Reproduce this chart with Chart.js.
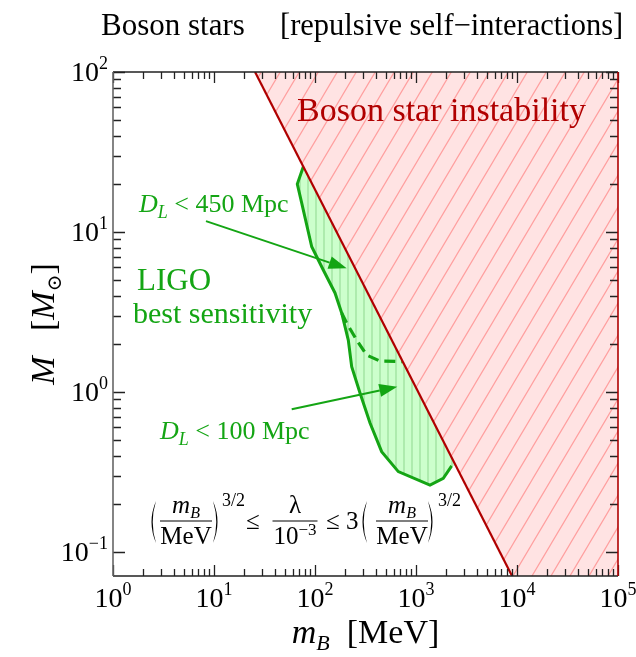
<!DOCTYPE html>
<html lang="en">
<head>
  <meta charset="UTF-8">
  <title>Boson stars</title>
  <script src="https://cdn.jsdelivr.net/npm/chart.js@4"></script>
  <style>
    body { margin: 0; background: #fff; }
    #wrap { width: 636px; height: 657px; }
  </style>
</head>
<body>
  <div id="wrap"><canvas id="chart" width="636" height="657"></canvas></div>

  <script>
    // axis ranges (log-log)
    const massRange = [1, 1e5];        // m_B [MeV]
    const starRange = [0.0708, 100];   // M [M_sun]
    const xTickPowers = [0, 1, 2, 3, 4, 5];
    const yTickPowers = [-1, 0, 1, 2];

    // maximum stable boson star mass, M ~ m_B^(-5/4)
    const boundaryMass = [25.5, 1e5];
    const boundaryM = [100, 0.00356];

    // LIGO best-sensitivity contour (solid part)
    const ligoMass = [76.6, 66.8, 73.8, 92.8, 120.8, 157.8, 183.7, 213.6, 230.8, 279, 350.6, 457, 668, 1376, 1862, 2255];
    const ligoM = [25.6, 19.95, 15.2, 8.09, 5.79, 4.16, 3.12, 2.11, 1.44, 0.986, 0.640, 0.424, 0.318, 0.262, 0.289, 0.345];
    // where the contour meets the instability line
    const ligoEdgeMass = [2483];
    const ligoEdgeM = [0.345];

    // D_L < 100 Mpc contour (dashed part)
    const dashMass = [183.7, 206, 259, 325, 440, 735];
    const dashM = [3.12, 2.69, 2.11, 1.70, 1.56, 1.55];

    // arrows from the distance labels into the region
    const arrowFromMass = [8.33, 58.8];
    const arrowFromM = [11.7, 0.78];
    const arrowToMass = [206, 653];
    const arrowToM = [5.93, 1.08];

    const RED = '#b00000';
    const GREEN = '#14a514';
    const SERIF = '"Liberation Serif", "Times New Roman", "DejaVu Serif", serif';

    const pts = (xs, ys) => xs.map((x, i) => ({ x: x, y: ys[i] }));

    function makeHatch(bg, line, w, h, lw, vertical) {
      const c = document.createElement('canvas');
      c.width = w; c.height = h;
      const g = c.getContext('2d');
      g.fillStyle = bg;
      g.fillRect(0, 0, w, h);
      g.strokeStyle = line;
      g.lineWidth = lw;
      g.beginPath();
      if (vertical) {
        g.moveTo(w / 2, 0); g.lineTo(w / 2, h);
      } else {
        for (const k of [-1, 0, 1]) {
          g.moveTo(k * w - w, 2 * h);
          g.lineTo(k * w + 2 * w, -h);
        }
      }
      g.stroke();
      return g.createPattern(c, 'repeat');
    }

    function font(size, italic) {
      return (italic ? 'italic ' : '') + size + 'px ' + SERIF;
    }

    // draws a row of text runs (sub/superscripts via dy)
    function drawRuns(ctx, parts, x, y, align) {
      let w = 0;
      parts.forEach(p => { ctx.font = font(p.s, p.i); w += ctx.measureText(p.t).width; });
      let cx = align === 'center' ? x - w / 2 : align === 'right' ? x - w : x;
      ctx.textAlign = 'left';
      parts.forEach(p => {
        ctx.font = font(p.s, p.i);
        ctx.fillText(p.t, cx, y + (p.dy || 0));
        cx += ctx.measureText(p.t).width;
      });
    }

    function powerLabel(p) {
      return [{ t: '10', s: 28 }, { t: p < 0 ? '\u2212' + (-p) : String(p), s: 18, dy: -12 }];
    }

    function arrow(ctx, x0, y0, x1, y1) {
      const ang = Math.atan2(y1 - y0, x1 - x0), L = 18, W = 6.5;
      const bx = x1 - L * Math.cos(ang), by = y1 - L * Math.sin(ang);
      ctx.beginPath(); ctx.moveTo(x0, y0); ctx.lineTo(bx, by); ctx.stroke();
      ctx.beginPath();
      ctx.moveTo(x1, y1);
      ctx.lineTo(bx + W * Math.sin(ang), by - W * Math.cos(ang));
      ctx.lineTo(bx - W * Math.sin(ang), by + W * Math.cos(ang));
      ctx.closePath(); ctx.fill();
    }

    // tall thin bracket: a crescent between two curves
    function paren(ctx, x, top, bottom, open) {
      const d = open ? 1 : -1, mid = (top + bottom) / 2;
      const x0 = open ? x + 7 : x, xc = x0 - d * 9;
      ctx.beginPath();
      ctx.moveTo(x0, top);
      ctx.quadraticCurveTo(xc, mid, x0, bottom);
      ctx.quadraticCurveTo(xc + d * 2.4, mid, x0, top);
      ctx.fill();
    }

    function fraction(ctx, num, den, cx, barY, barW) {
      drawRuns(ctx, num, cx, barY - 8, 'center');
      drawRuns(ctx, den, cx, barY + 23, 'center');
      ctx.lineWidth = 1.2;
      ctx.beginPath(); ctx.moveTo(cx - barW / 2, barY); ctx.lineTo(cx + barW / 2, barY); ctx.stroke();
    }

    const overlay = {
      id: 'overlay',
      afterDatasetsDraw(chart) {
        const ctx = chart.ctx, xs = chart.scales.x, ys = chart.scales.y, a = chart.chartArea;
        ctx.save();
        ctx.textBaseline = 'alphabetic';

        // region label
        ctx.fillStyle = RED;
        drawRuns(ctx, [{ t: 'Boson star instability', s: 34 }], 297, 121, 'left');

        // green labels and arrows
        ctx.fillStyle = GREEN;
        ctx.strokeStyle = GREEN;
        drawRuns(ctx, [{ t: 'D', s: 26, i: true }, { t: 'L', s: 18, i: true, dy: 6 }, { t: ' < 450 Mpc', s: 26 }], 139, 212, 'left');
        drawRuns(ctx, [{ t: 'LIGO', s: 31 }], 137, 290, 'left');
        drawRuns(ctx, [{ t: 'best sensitivity', s: 30 }], 133, 323, 'left');
        drawRuns(ctx, [{ t: 'D', s: 26, i: true }, { t: 'L', s: 18, i: true, dy: 6 }, { t: ' < 100 Mpc', s: 26 }], 160, 439, 'left');
        ctx.lineWidth = 2;
        arrowFromMass.forEach((m, i) => {
          arrow(ctx, xs.getPixelForValue(m), ys.getPixelForValue(arrowFromM[i]),
                xs.getPixelForValue(arrowToMass[i]), ys.getPixelForValue(arrowToM[i]));
        });

        // coupling range
        ctx.fillStyle = '#000';
        ctx.strokeStyle = '#000';
        const mOverMeV = [[{ t: 'm', s: 25, i: true }, { t: 'B', s: 16, i: true, dy: 5 }], [{ t: 'MeV', s: 25 }]];
        paren(ctx, 149, 501, 543, true);
        fraction(ctx, mOverMeV[0], mOverMeV[1], 186, 521, 52);
        paren(ctx, 213, 501, 543, false);
        drawRuns(ctx, [{ t: '3/2', s: 18 }], 222, 506, 'left');
        drawRuns(ctx, [{ t: '\u2264', s: 25 }], 246, 529, 'left');
        fraction(ctx, [{ t: '\u03bb', s: 25 }], [{ t: '10', s: 25 }, { t: '\u22123', s: 17, dy: -9 }], 295, 521, 45);
        drawRuns(ctx, [{ t: '\u2264', s: 25 }], 326, 529, 'left');
        drawRuns(ctx, [{ t: '3', s: 25 }], 346, 529, 'left');
        paren(ctx, 360, 501, 543, true);
        fraction(ctx, mOverMeV[0], mOverMeV[1], 402, 521, 52);
        paren(ctx, 428, 501, 543, false);
        drawRuns(ctx, [{ t: '3/2', s: 18 }], 438, 506, 'left');

        // frame and inward ticks on all four sides
        const minor = [2, 3, 4, 5, 6, 7, 8, 9];
        ctx.lineWidth = 1.3;
        ctx.strokeStyle = '#222';
        ctx.beginPath();
        xTickPowers.forEach(p => {
          const vals = [Math.pow(10, p)];
          if (p < 5) minor.forEach(k => vals.push(k * Math.pow(10, p)));
          vals.forEach((v, j) => {
            const x = Math.round(xs.getPixelForValue(v)) + 0.5;
            const len = j === 0 ? 11 : 7;
            ctx.moveTo(x, a.bottom); ctx.lineTo(x, a.bottom - len);
            ctx.moveTo(x, a.top); ctx.lineTo(x, a.top + len);
          });
        });
        yTickPowers.forEach(p => {
          const vals = [Math.pow(10, p)];
          if (p < 2) minor.forEach(k => vals.push(k * Math.pow(10, p)));
          vals.forEach((v, j) => {
            const y = Math.round(ys.getPixelForValue(v)) + 0.5;
            const len = j === 0 ? 12 : 8;
            ctx.moveTo(a.left, y); ctx.lineTo(a.left + len, y);
            ctx.moveTo(a.right, y); ctx.lineTo(a.right - len, y);
          });
        });
        ctx.stroke();

        ctx.lineWidth = 1.6;
        ctx.strokeStyle = '#222';
        ctx.beginPath();
        ctx.moveTo(a.left, a.bottom); ctx.lineTo(a.right, a.bottom);
        ctx.moveTo(a.left, a.top); ctx.lineTo(a.right, a.top);
        ctx.stroke();
        ctx.strokeStyle = '#666';
        ctx.beginPath(); ctx.moveTo(a.left, a.top); ctx.lineTo(a.left, a.bottom); ctx.stroke();
        ctx.strokeStyle = RED;
        ctx.beginPath(); ctx.moveTo(a.right, a.top); ctx.lineTo(a.right, a.bottom); ctx.stroke();

        // tick labels
        ctx.fillStyle = '#000';
        xTickPowers.forEach(p => drawRuns(ctx, powerLabel(p), xs.getPixelForValue(Math.pow(10, p)), 607, 'center'));
        yTickPowers.forEach(p => drawRuns(ctx, powerLabel(p), 108, ys.getPixelForValue(Math.pow(10, p)) + 9, 'right'));

        // axis titles
        drawRuns(ctx, [{ t: 'm', s: 34, i: true }, { t: 'B', s: 22, i: true, dy: 7 }, { t: '  [MeV]', s: 34 }], (a.left + a.right) / 2, 643, 'center');
        ctx.save();
        ctx.translate(54, (a.top + a.bottom) / 2);
        ctx.rotate(-Math.PI / 2);
        drawRuns(ctx, [{ t: 'M', s: 34, i: true }, { t: '   [', s: 34 }, { t: 'M', s: 34, i: true }, { t: '\u2299', s: 20, dy: 7 }, { t: ']', s: 34 }], 0, 0, 'center');
        ctx.restore();

        // title
        drawRuns(ctx, [{ t: 'Boson stars', s: 31 }], 101, 35, 'left');
        drawRuns(ctx, [{ t: '[repulsive self\u2212interactions]', s: 30.5 }], 280, 35, 'left');

        ctx.restore();
      }
    };

    const redHatch = makeHatch('#ffe3e3', '#ff9f9f', 19, 32, 1.2, false);
    const greenHatch = makeHatch('#ccffcc', '#8fd88f', 8, 8, 1, true);

    const ctx = document.getElementById('chart').getContext('2d');
    new Chart(ctx, {
      type: 'scatter',
      data: {
        datasets: [
          {
            data: pts(boundaryMass, boundaryM),
            showLine: true, borderColor: RED, borderWidth: 2.2, pointRadius: 0,
            fill: 'end', backgroundColor: redHatch, order: 0
          },
          {
            data: pts(ligoMass.concat(ligoEdgeMass, [ligoMass[0]]), ligoM.concat(ligoEdgeM, [ligoM[0]])),
            showLine: true, borderWidth: 0, pointRadius: 0,
            fill: 'shape', backgroundColor: greenHatch, order: 3
          },
          {
            data: pts(ligoMass, ligoM),
            showLine: true, borderColor: GREEN, borderWidth: 3, pointRadius: 0, fill: false, order: 1
          },
          {
            data: pts(dashMass, dashM),
            showLine: true, borderColor: GREEN, borderWidth: 3.2, borderDash: [11, 6], pointRadius: 0, fill: false, order: 1
          }
        ]
      },
      options: {
        responsive: false,
        animation: false,
        events: [],
        layout: { padding: { left: 113, right: 18, top: 72, bottom: 81 } },
        plugins: { legend: { display: false }, tooltip: { enabled: false } },
        scales: {
          x: { type: 'logarithmic', min: massRange[0], max: massRange[1], display: false },
          y: { type: 'logarithmic', min: starRange[0], max: starRange[1], display: false }
        }
      },
      plugins: [overlay]
    });
  </script>
</body>
</html>
